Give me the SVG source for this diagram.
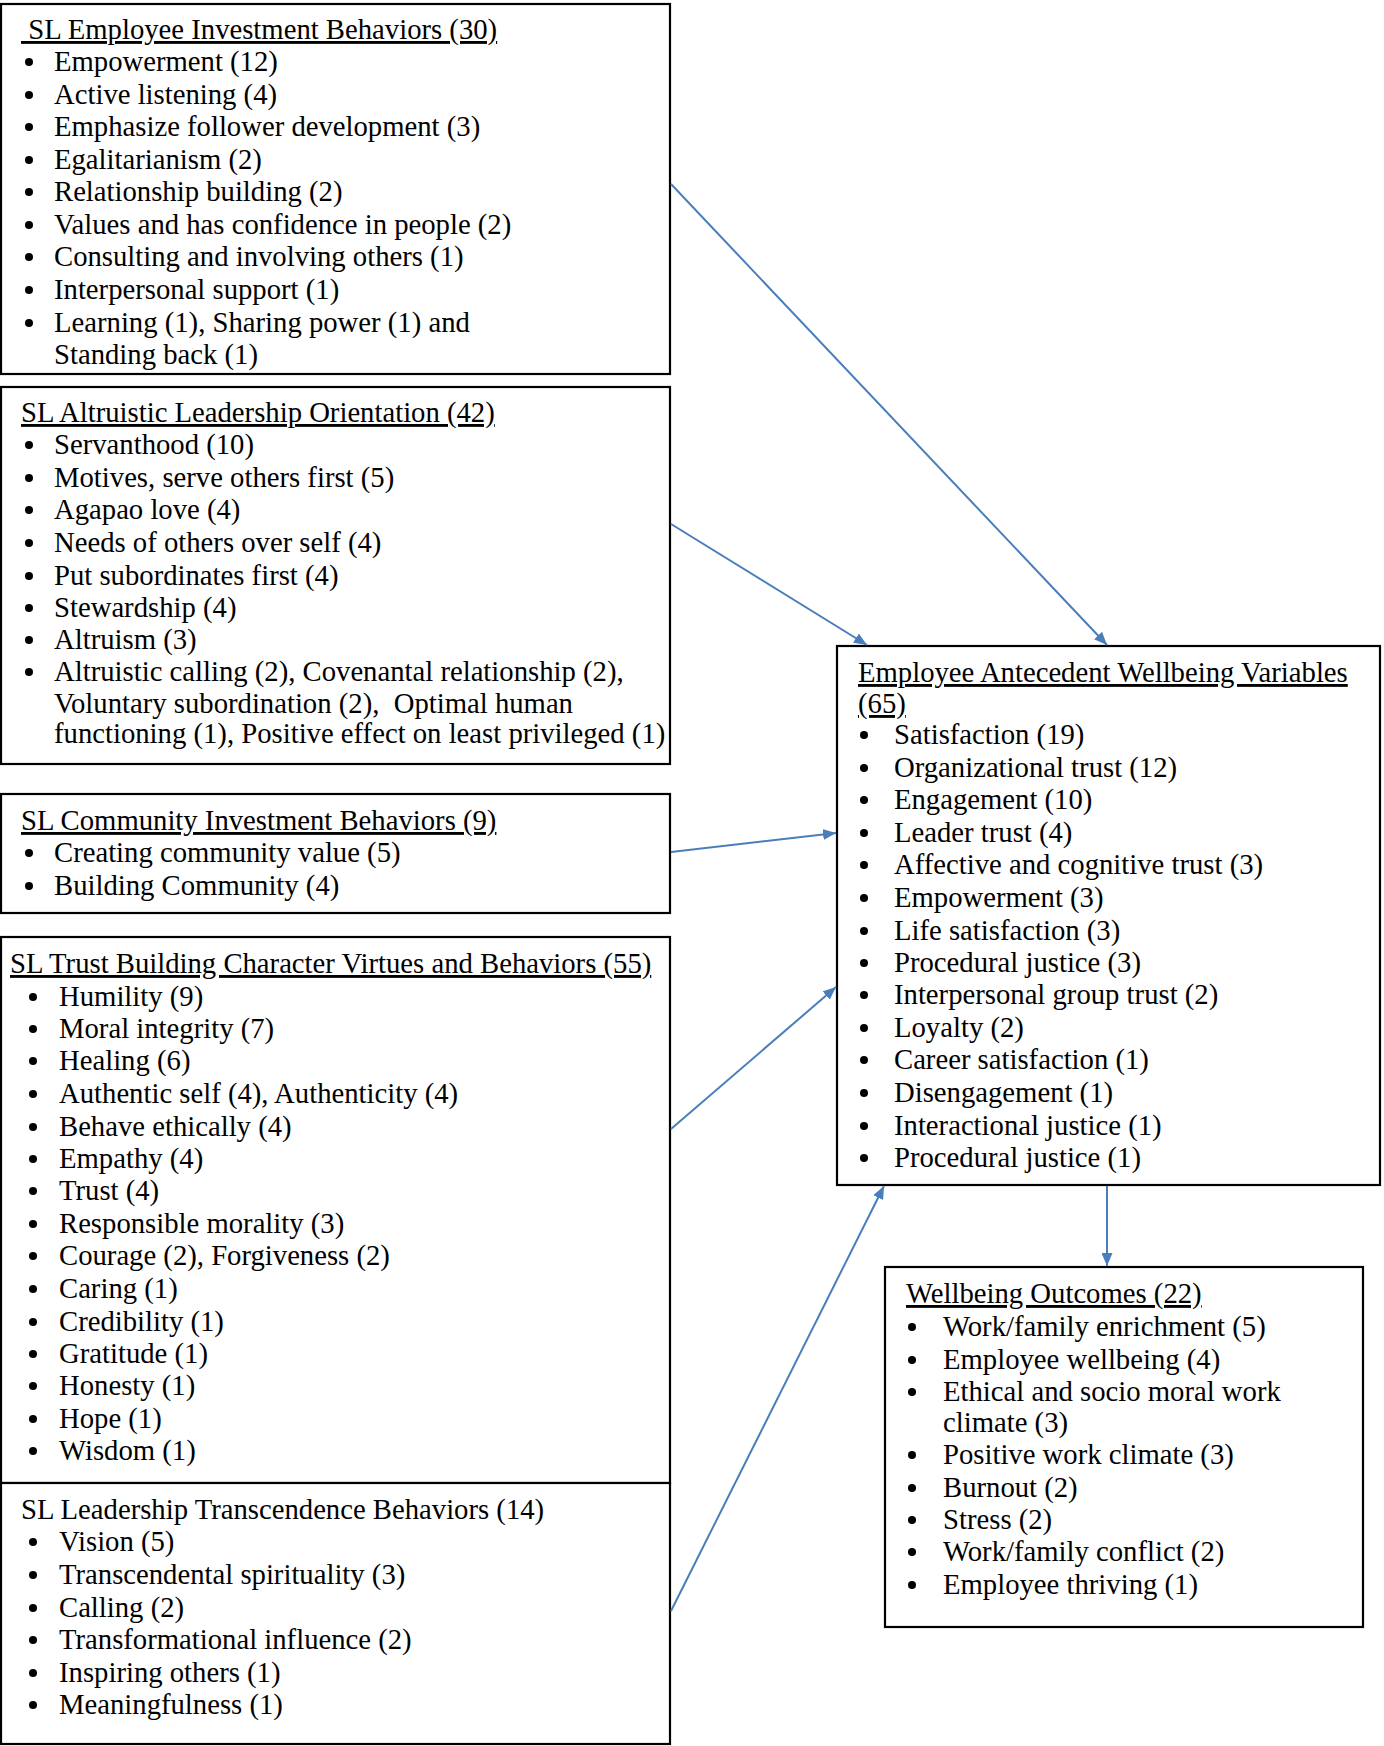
<svg xmlns="http://www.w3.org/2000/svg" width="1384" height="1746" viewBox="0 0 1384 1746">
<defs>
<style>
.box{fill:#fff;stroke:#000;stroke-width:2.2}
text{font-family:"Liberation Serif","Times New Roman",serif;font-size:28.7px;fill:#000;white-space:pre}
.t{text-decoration:underline}
.b{fill:#000}
.c{stroke:#4a7ebb;stroke-width:2;fill:none;marker-end:url(#ah)}
</style>
<marker id="ah" viewBox="0 0 13 11" refX="13" refY="5.5" markerWidth="13" markerHeight="11" markerUnits="userSpaceOnUse" orient="auto">
<path d="M0,0 L13,5.5 L0,11 z" fill="#4a7ebb"/>
</marker>
</defs>
<rect width="1384" height="1746" fill="#fff"/>

<g id="node-employee-investment">
<rect class="box" x="1" y="4" width="669" height="370"/>
<text class="t" x="21" y="39"> SL Employee Investment Behaviors (30)</text>
<g class="b"><circle cx="29" cy="62" r="4"/><circle cx="29" cy="95" r="4"/><circle cx="29" cy="127" r="4"/><circle cx="29" cy="160" r="4"/><circle cx="29" cy="192" r="4"/><circle cx="29" cy="225" r="4"/><circle cx="29" cy="257" r="4"/><circle cx="29" cy="290" r="4"/><circle cx="29" cy="323" r="4"/></g>
<text x="54" y="71">Empowerment (12)</text>
<text x="54" y="104">Active listening (4)</text>
<text x="54" y="136">Emphasize follower development (3)</text>
<text x="54" y="169">Egalitarianism (2)</text>
<text x="54" y="201">Relationship building (2)</text>
<text x="54" y="234">Values and has confidence in people (2)</text>
<text x="54" y="266">Consulting and involving others (1)</text>
<text x="54" y="299">Interpersonal support (1)</text>
<text x="54" y="332">Learning (1), Sharing power (1) and</text>
<text x="54" y="364">Standing back (1)</text>
</g>

<g id="node-altruistic">
<rect class="box" x="1" y="387" width="669" height="377"/>
<text class="t" x="21" y="422">SL Altruistic Leadership Orientation (42)</text>
<g class="b"><circle cx="29" cy="445" r="4"/><circle cx="29" cy="478" r="4"/><circle cx="29" cy="510" r="4"/><circle cx="29" cy="543" r="4"/><circle cx="29" cy="576" r="4"/><circle cx="29" cy="608" r="4"/><circle cx="29" cy="640" r="4"/><circle cx="29" cy="672" r="4"/></g>
<text x="54" y="454">Servanthood (10)</text>
<text x="54" y="487">Motives, serve others first (5)</text>
<text x="54" y="519">Agapao love (4)</text>
<text x="54" y="552">Needs of others over self (4)</text>
<text x="54" y="585">Put subordinates first (4)</text>
<text x="54" y="617">Stewardship (4)</text>
<text x="54" y="649">Altruism (3)</text>
<text x="54" y="681">Altruistic calling (2), Covenantal relationship (2),</text>
<text x="54" y="713">Voluntary subordination (2),  Optimal human</text>
<text x="54" y="743">functioning (1), Positive effect on least privileged (1)</text>
</g>

<g id="node-community">
<rect class="box" x="1" y="794" width="669" height="119"/>
<text class="t" x="21" y="830">SL Community Investment Behaviors (9)</text>
<g class="b"><circle cx="29" cy="853" r="4"/><circle cx="29" cy="886" r="4"/></g>
<text x="54" y="862">Creating community value (5)</text>
<text x="54" y="895">Building Community (4)</text>
</g>

<g id="node-trust-building">
<rect class="box" x="1" y="937" width="669" height="546"/>
<text class="t" x="10" y="973">SL Trust Building Character Virtues and Behaviors (55)</text>
<g class="b"><circle cx="33" cy="997" r="4"/><circle cx="33" cy="1029" r="4"/><circle cx="33" cy="1061" r="4"/><circle cx="33" cy="1094" r="4"/><circle cx="33" cy="1127" r="4"/><circle cx="33" cy="1159" r="4"/><circle cx="33" cy="1191" r="4"/><circle cx="33" cy="1224" r="4"/><circle cx="33" cy="1256" r="4"/><circle cx="33" cy="1289" r="4"/><circle cx="33" cy="1322" r="4"/><circle cx="33" cy="1354" r="4"/><circle cx="33" cy="1386" r="4"/><circle cx="33" cy="1419" r="4"/><circle cx="33" cy="1451" r="4"/></g>
<text x="59" y="1006">Humility (9)</text>
<text x="59" y="1038">Moral integrity (7)</text>
<text x="59" y="1070">Healing (6)</text>
<text x="59" y="1103">Authentic self (4), Authenticity (4)</text>
<text x="59" y="1136">Behave ethically (4)</text>
<text x="59" y="1168">Empathy (4)</text>
<text x="59" y="1200">Trust (4)</text>
<text x="59" y="1233">Responsible morality (3)</text>
<text x="59" y="1265">Courage (2), Forgiveness (2)</text>
<text x="59" y="1298">Caring (1)</text>
<text x="59" y="1331">Credibility (1)</text>
<text x="59" y="1363">Gratitude (1)</text>
<text x="59" y="1395">Honesty (1)</text>
<text x="59" y="1428">Hope (1)</text>
<text x="59" y="1460">Wisdom (1)</text>
</g>

<g id="node-transcendence">
<rect class="box" x="1" y="1483" width="669" height="261"/>
<text x="21" y="1519">SL Leadership Transcendence Behaviors (14)</text>
<g class="b"><circle cx="33" cy="1542" r="4"/><circle cx="33" cy="1575" r="4"/><circle cx="33" cy="1608" r="4"/><circle cx="33" cy="1640" r="4"/><circle cx="33" cy="1673" r="4"/><circle cx="33" cy="1705" r="4"/></g>
<text x="59" y="1551">Vision (5)</text>
<text x="59" y="1584">Transcendental spirituality (3)</text>
<text x="59" y="1617">Calling (2)</text>
<text x="59" y="1649">Transformational influence (2)</text>
<text x="59" y="1682">Inspiring others (1)</text>
<text x="59" y="1714">Meaningfulness (1)</text>
</g>

<g id="node-antecedent">
<rect class="box" x="837" y="646" width="543" height="539"/>
<text class="t" x="858" y="682">Employee Antecedent Wellbeing Variables</text>
<text class="t" x="858" y="713">(65)</text>
<g class="b"><circle cx="864" cy="735" r="4"/><circle cx="864" cy="768" r="4"/><circle cx="864" cy="800" r="4"/><circle cx="864" cy="833" r="4"/><circle cx="864" cy="865" r="4"/><circle cx="864" cy="898" r="4"/><circle cx="864" cy="931" r="4"/><circle cx="864" cy="963" r="4"/><circle cx="864" cy="995" r="4"/><circle cx="864" cy="1028" r="4"/><circle cx="864" cy="1060" r="4"/><circle cx="864" cy="1093" r="4"/><circle cx="864" cy="1126" r="4"/><circle cx="864" cy="1158" r="4"/></g>
<text x="894" y="744">Satisfaction (19)</text>
<text x="894" y="777">Organizational trust (12)</text>
<text x="894" y="809">Engagement (10)</text>
<text x="894" y="842">Leader trust (4)</text>
<text x="894" y="874">Affective and cognitive trust (3)</text>
<text x="894" y="907">Empowerment (3)</text>
<text x="894" y="940">Life satisfaction (3)</text>
<text x="894" y="972">Procedural justice (3)</text>
<text x="894" y="1004">Interpersonal group trust (2)</text>
<text x="894" y="1037">Loyalty (2)</text>
<text x="894" y="1069">Career satisfaction (1)</text>
<text x="894" y="1102">Disengagement (1)</text>
<text x="894" y="1135">Interactional justice (1)</text>
<text x="894" y="1167">Procedural justice (1)</text>
</g>

<g id="node-outcomes">
<rect class="box" x="885" y="1267" width="478" height="360"/>
<text class="t" x="906" y="1303">Wellbeing Outcomes (22)</text>
<g class="b"><circle cx="912" cy="1327" r="4"/><circle cx="912" cy="1360" r="4"/><circle cx="912" cy="1392" r="4"/><circle cx="912" cy="1455" r="4"/><circle cx="912" cy="1488" r="4"/><circle cx="912" cy="1520" r="4"/><circle cx="912" cy="1552" r="4"/><circle cx="912" cy="1585" r="4"/></g>
<text x="943" y="1336">Work/family enrichment (5)</text>
<text x="943" y="1369">Employee wellbeing (4)</text>
<text x="943" y="1401">Ethical and socio moral work</text>
<text x="943" y="1432">climate (3)</text>
<text x="943" y="1464">Positive work climate (3)</text>
<text x="943" y="1497">Burnout (2)</text>
<text x="943" y="1529">Stress (2)</text>
<text x="943" y="1561">Work/family conflict (2)</text>
<text x="943" y="1594">Employee thriving (1)</text>
</g>

<g id="connectors">
<line class="c" x1="671" y1="184" x2="1107" y2="645"/>
<line class="c" x1="671" y1="524" x2="867" y2="645"/>
<line class="c" x1="671" y1="852" x2="836" y2="833"/>
<line class="c" x1="671" y1="1129" x2="836" y2="987"/>
<line class="c" x1="671" y1="1611" x2="884" y2="1186"/>
<line class="c" x1="1107" y1="1186" x2="1107" y2="1266"/>
</g>
</svg>
